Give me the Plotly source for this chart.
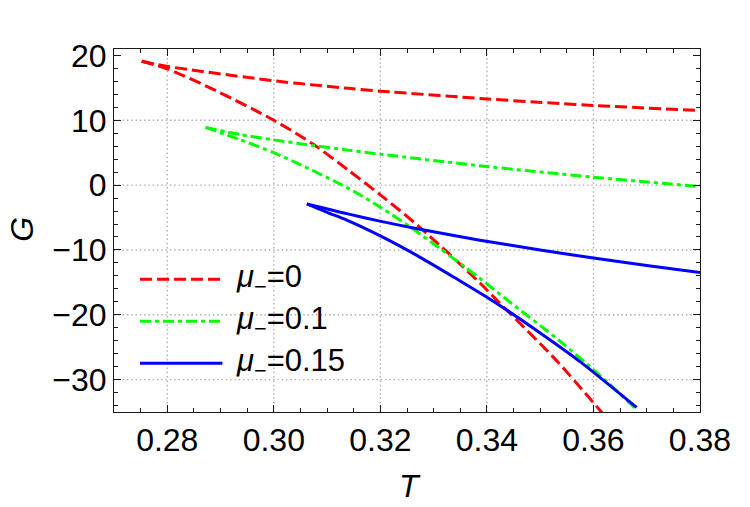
import plotly.graph_objects as go

# ---- data ----
# mu_- = 0  (red, dashed)
red_up_T = [0.2752, 0.2801, 0.3000, 0.3049, 0.3140, 0.3200, 0.3400, 0.3515, 0.3600, 0.3800]
red_up_G = [19.1, 18.3, 16.1, 15.66, 14.93, 14.5, 13.3, 12.7, 12.3, 11.5]
red_lo_T = [0.2752, 0.2801, 0.2893, 0.3000, 0.3074, 0.3140, 0.3200, 0.3274, 0.3387, 0.3418, 0.3531, 0.3620]
red_lo_G = [19.1, 17.9, 14.5, 10.0, 6.3, 2.3, -1.5, -6.5, -15.1, -17.7, -27.1, -35.5]

# mu_- = 0.1  (green, dot-dashed)
grn_up_T = [0.2872, 0.2937, 0.3000, 0.3049, 0.3140, 0.3200, 0.3400, 0.3515, 0.3600, 0.3800]
grn_up_G = [8.9, 7.8, 6.98, 6.4, 5.4, 4.77, 2.87, 1.9, 1.22, -0.22]
grn_lo_T = [0.2872, 0.2937, 0.3000, 0.3049, 0.3140, 0.3200, 0.3274, 0.3387, 0.3437, 0.3539, 0.3614, 0.3678]
grn_lo_G = [8.9, 7.0, 5.0, 3.2, -0.5, -3.4, -7.5, -14.4, -17.65, -24.2, -29.5, -34.4]

# mu_- = 0.15  (blue, solid)
blu_up_T = [0.3062, 0.3137, 0.3199, 0.3274, 0.3387, 0.3500, 0.3600, 0.3700, 0.3800]
blu_up_G = [-2.9, -4.4, -5.55, -6.8, -8.5, -10.0, -11.25, -12.4, -13.5]
blu_lo_T = [0.3062, 0.3100, 0.3137, 0.3199, 0.3274, 0.3340, 0.3412, 0.3500, 0.3576, 0.3681]
blu_lo_G = [-2.9, -4.2, -5.4, -7.8, -11.1, -14.3, -17.9, -22.8, -27.3, -34.3]

legend_labels = ["<i>μ</i><sub>−</sub>=0", "<i>μ</i><sub>−</sub>=0.1", "<i>μ</i><sub>−</sub>=0.15"]

x_grid = [0.28, 0.30, 0.32, 0.34, 0.36]
y_grid = [10, 0, -10, -20, -30]

FONT = "Liberation Sans, Arial, sans-serif"
RED, GREEN, BLUE = "#ff0000", "#00ff00", "#0000ff"
RED_DASH = "12px,5px"
GRN_DASH = "11px,4px,4px,4px"

fig = go.Figure()

series = [
    (red_up_T, red_up_G, red_lo_T, red_lo_G, RED, RED_DASH, legend_labels[0]),
    (grn_up_T, grn_up_G, grn_lo_T, grn_lo_G, GREEN, GRN_DASH, legend_labels[1]),
    (blu_up_T, blu_up_G, blu_lo_T, blu_lo_G, BLUE, "solid", legend_labels[2]),
]
for uT, uG, lT, lG, col, dash, name in series:
    for T, G in ((uT, uG), (lT, lG)):
        fig.add_trace(go.Scatter(
            x=T, y=G, mode="lines", name=name, showlegend=False,
            line=dict(color=col, width=3, dash=dash, shape="spline", smoothing=0.8),
        ))

# dotted grid lines (none at G=20 in the reference)
for xv in x_grid:
    fig.add_shape(type="line", xref="x", yref="paper", x0=xv, x1=xv, y0=0, y1=1,
                  line=dict(color="#b0b0b0", width=1.4, dash="1.5px,2.8px"), layer="below")
for yv in y_grid:
    fig.add_shape(type="line", xref="paper", yref="y", x0=0, x1=1, y0=yv, y1=yv,
                  line=dict(color="#b0b0b0", width=1.4, dash="1.5px,2.8px"), layer="below")

# manual legend (long sample lines like the reference)
leg_y = [0.366, 0.250, 0.1345]
leg_styles = [(RED, RED_DASH), (GREEN, GRN_DASH), (BLUE, "solid")]
for yv, (col, dash), lab in zip(leg_y, leg_styles, legend_labels):
    fig.add_shape(type="line", xref="paper", yref="paper", x0=0.0444, x1=0.185, y0=yv, y1=yv,
                  line=dict(color=col, width=3, dash=dash))
    fig.add_annotation(xref="paper", yref="paper", x=0.204, y=yv, text=lab, showarrow=False,
                       xanchor="left", yanchor="middle", font=dict(family=FONT, size=31, color="black"))

# axis titles
fig.add_annotation(xref="paper", yref="paper", x=0.505, y=-0.205, text="<i>T</i>", showarrow=False,
                   xanchor="center", yanchor="middle", font=dict(family=FONT, size=32, color="black"))
fig.add_annotation(xref="paper", yref="paper", x=-0.1570, y=0.505, text="<i>G</i>", showarrow=False,
                   textangle=-90, xanchor="center", yanchor="middle", borderpad=0,
                   font=dict(family=FONT, size=32, color="black"))

axis_common = dict(
    showgrid=False, zeroline=False, showline=True, linecolor="#1a1a1a", linewidth=1,
    mirror="ticks", ticks="inside", ticklen=7, tickwidth=1, tickcolor="#1a1a1a",
    tickfont=dict(family=FONT, size=32, color="black"),
)
fig.update_xaxes(range=[0.27, 0.38], tickmode="linear", tick0=0.28, dtick=0.02, tickformat=".2f",
                 minor=dict(ticks="inside", ticklen=4, tickcolor="#1a1a1a", tickmode="linear",
                            tick0=0.27, dtick=0.005, showgrid=False),
                 **axis_common)
fig.update_yaxes(range=[-35, 21], tickmode="linear", tick0=-30, dtick=10,
                 minor=dict(ticks="inside", ticklen=4, tickcolor="#1a1a1a", tickmode="linear",
                            tick0=-34, dtick=2, showgrid=False),
                 **axis_common)

fig.update_layout(
    width=750, height=507,
    margin=dict(l=114, r=50, t=49, b=95),
    paper_bgcolor="white", plot_bgcolor="white",
    font=dict(family=FONT, color="black"),
    showlegend=False,
)

fig.write_html("out.html")
